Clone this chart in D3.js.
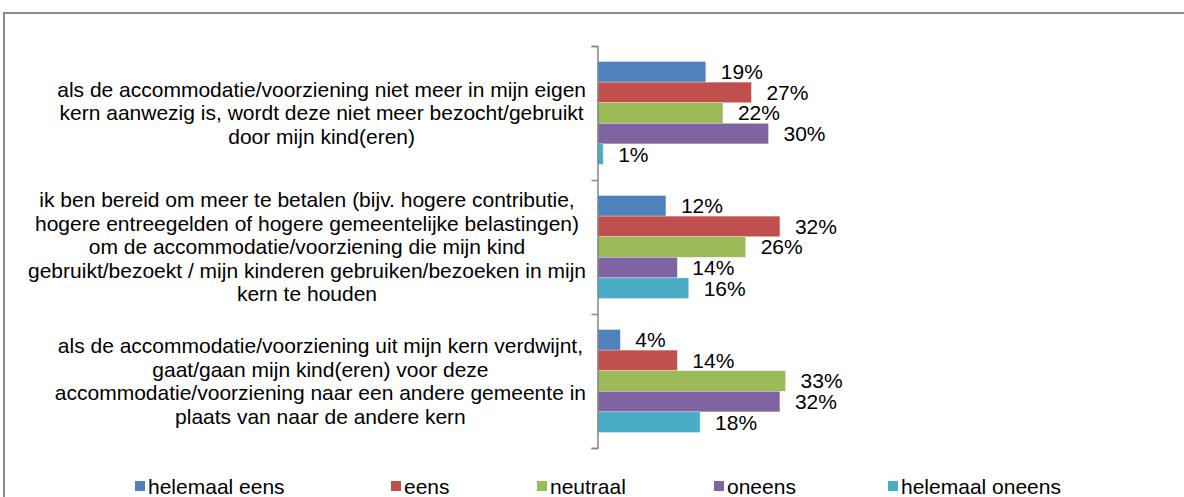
<!DOCTYPE html>
<html>
<head>
<meta charset="utf-8">
<script src="https://cdn.jsdelivr.net/npm/d3@7/dist/d3.min.js"></script>
<style>
  html, body { margin: 0; padding: 0; background: #fff; }
  svg { display: block; font-family: "Liberation Sans", Arial, sans-serif; }
</style>
</head>
<body>
<svg id="chart" width="1184" height="497"></svg>
<script>
// statements, already broken into the lines the original shows
const categories = [
  ['als de accommodatie/voorziening niet meer in mijn eigen',
   'kern aanwezig is, wordt deze niet meer bezocht/gebruikt',
   'door mijn kind(eren)'],
  ['ik ben bereid om meer te betalen (bijv. hogere contributie,',
   'hogere entreegelden of hogere gemeentelijke belastingen)',
   'om de accommodatie/voorziening die mijn kind',
   'gebruikt/bezoekt / mijn kinderen gebruiken/bezoeken in mijn',
   'kern te houden'],
  ['als de accommodatie/voorziening uit mijn kern verdwijnt,',
   'gaat/gaan mijn kind(eren) voor deze',
   'accommodatie/voorziening naar een andere gemeente in',
   'plaats van naar de andere kern']
];

const seriesNames = ['helemaal eens', 'eens', 'neutraal', 'oneens', 'helemaal oneens'];
const seriesColors = ['#4F81BD', '#C0504D', '#9BBB59', '#8064A2', '#4BACC6'];

const helemaalEens   = [19, 12, 4];
const eens           = [27, 32, 14];
const neutraal       = [22, 26, 33];
const oneens         = [30, 14, 32];
const helemaalOneens = [1, 16, 18];

const seriesValues = [helemaalEens, eens, neutraal, oneens, helemaalOneens];

const fontSize = 21;
const svg = d3.select('#chart');

// outer frame (clipped on the right and bottom in the original)
svg.append('path')
  .attr('d', 'M4,500 L4,13 L1190,13')
  .attr('fill', 'none')
  .attr('stroke', '#898989')
  .attr('stroke-width', 2);

const axisX = 597.5;
const plotTop = 46, plotBottom = 448;

const y0 = d3.scaleBand()
  .domain(d3.range(categories.length))
  .range([plotTop, plotBottom])
  .paddingInner(0.232)
  .paddingOuter(0.116);

const y1 = d3.scaleBand()
  .domain(d3.range(seriesNames.length))
  .range([0, y0.bandwidth()]);

const x = d3.scaleLinear()
  .domain([0, 35])
  .range([axisX, axisX + 199.5]);

const groups = svg.selectAll('g.cat')
  .data(categories)
  .enter().append('g')
  .attr('class', 'cat')
  .attr('transform', (d, i) => `translate(0,${y0(i)})`);

groups.each(function(lines, ci) {
  const g = d3.select(this);
  seriesValues.forEach((vals, si) => {
    g.append('rect')
      .attr('x', x(0))
      .attr('y', y1(si))
      .attr('width', x(vals[ci]) - x(0))
      .attr('height', y1.bandwidth())
      .attr('fill', seriesColors[si])
      .attr('stroke', '#fff')
      .attr('stroke-opacity', 0.5)
      .attr('stroke-width', 0.6);
    g.append('text')
      .attr('x', x(vals[ci]) + 15)
      .attr('y', y1(si) + y1.bandwidth() / 2)
      .attr('dy', '0.35em')
      .attr('font-size', fontSize)
      .attr('fill', '#000')
      .text(vals[ci] + '%');
  });
});

// category axis
const axis = d3.axisLeft(d3.scaleLinear().domain([0, categories.length]).range([plotTop, plotBottom]))
  .ticks(categories.length)
  .tickSize(6)
  .tickFormat('');
const axisG = svg.append('g')
  .attr('transform', `translate(${axisX},0)`)
  .call(axis);
axisG.selectAll('path, line').attr('stroke', '#868686').attr('stroke-width', 1.5);

// category labels: centred block, right edge near the axis
const labelRight = 586;
const lineH = 23.5;
categories.forEach((lines, ci) => {
  const cy = y0(ci) + y0.bandwidth() / 2;
  const t = svg.append('text')
    .attr('font-size', fontSize)
    .attr('fill', '#000')
    .attr('text-anchor', 'middle');
  lines.forEach((ln, li) => {
    t.append('tspan')
      .attr('y', cy + (li - (lines.length - 1) / 2) * lineH)
      .attr('dy', '0.35em')
      .text(ln);
  });
  let maxW = 0;
  t.selectAll('tspan').each(function() {
    maxW = Math.max(maxW, this.getComputedTextLength());
  });
  t.selectAll('tspan').attr('x', labelRight - maxW / 2);
});

// legend
const legendX = [135, 391, 537, 714, 888];
const legend = svg.append('g');
seriesNames.forEach((name, i) => {
  legend.append('rect')
    .attr('x', legendX[i])
    .attr('y', 481)
    .attr('width', 10)
    .attr('height', 10)
    .attr('fill', seriesColors[i]);
  legend.append('text')
    .attr('x', legendX[i] + 13)
    .attr('y', 487)
    .attr('dy', '0.35em')
    .attr('font-size', fontSize)
    .attr('fill', '#000')
    .text(name);
});
</script>
</body>
</html>
